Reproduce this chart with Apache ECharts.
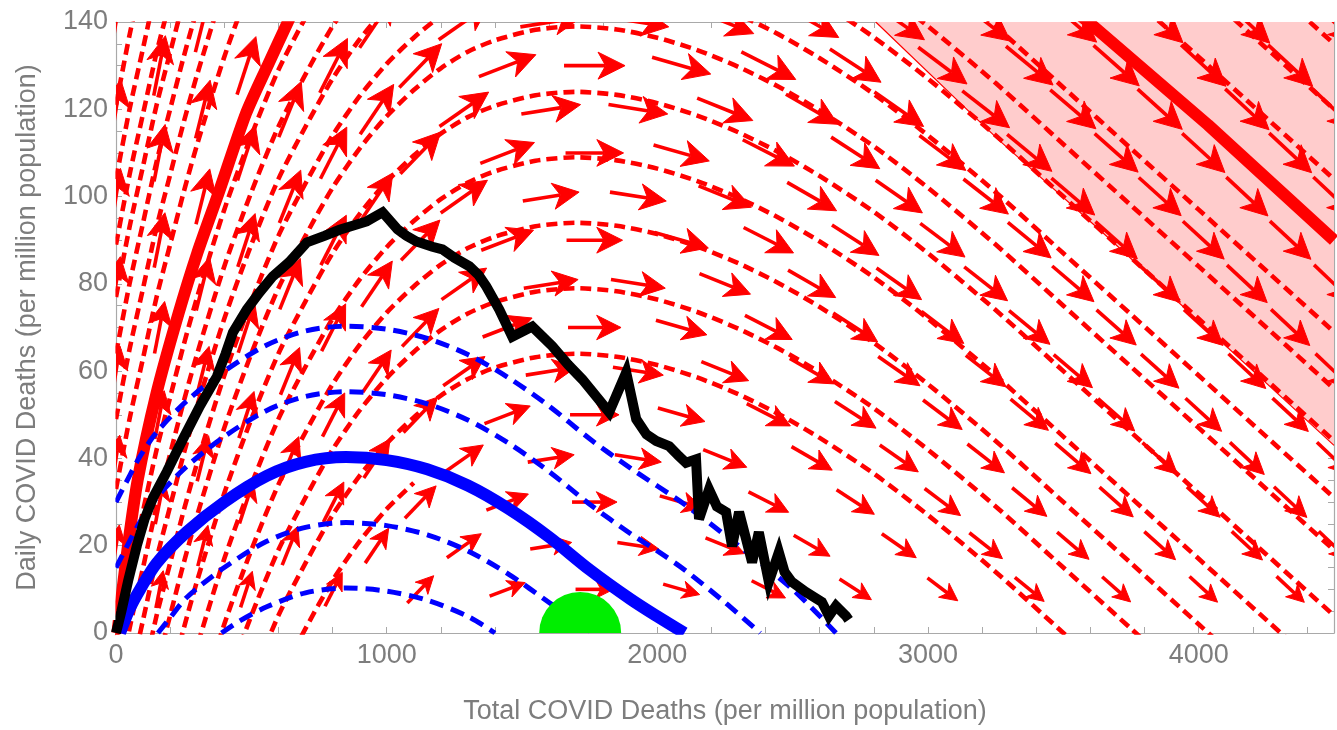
<!DOCTYPE html>
<html>
<head>
<meta charset="utf-8">
<script src="https://cdn.jsdelivr.net/npm/echarts/dist/echarts.min.js"></script>
<style>
html,body{margin:0;padding:0;background:#ffffff;}
#chart{width:1337px;height:730px;}
</style>
</head>
<body>
<div id="chart"></div>
<script>
// ---------------- data ----------------
const xTickLabels = [0, 1000, 2000, 3000, 4000];
const yTickLabels = [0, 20, 40, 60, 80, 100, 120, 140];

// shape of one red stream line: x and the drop below its peak
const streamShapeX    = [0, 50, 100, 150, 200, 250, 300, 400, 500, 600, 700, 800, 900, 1000, 1100, 1200, 1300, 1400, 1550, 1700, 1850, 2000, 2150, 2300, 2450, 2600, 2800, 3000, 3250, 3500, 3750, 4000, 4250, 4500];
const streamShapeDrop = [-191, -175, -161, -147, -135, -123, -112, -92, -75, -60, -48, -37, -28, -20.6, -14.6, -9.6, -5.8, -3.2, -0.8, 0, -0.7, -2.6, -5.5, -9.3, -13.9, -19.3, -27.5, -37, -50, -64, -78, -92, -106, -120];
// peak heights of the dashed red stream lines
const redStreamPeaks = [64, 79, 94, 109, 124, 139, 151, 164, 176, 189, 224, 240, 255, 268, 280, 295, 312];
const redPartialPeak = 49;
const redPartialXMax = 1150;

// thick solid red stream line (left and right visible parts)
const thickRedLeft  = [[5,0],[40,18],[80,35],[150,55],[230,73],[300,87],[380,101],[480,119],[560,130],[635,140],[700,149]];
const thickRedRight = [[3450,147],[3593,140],[4035,116.4],[4500,90]];
// edge of the pink band
const pinkEdge = [[2807,140],[3261,113],[3641,92],[4500,43]];

// blue curves
const blueThick  = [[15,0],[50,5.5],[89,10],[150,16],[262,23.2],[400,30],[557,36],[700,39.2],[850,40.3],[1000,39.6],[1150,37.5],[1300,33.8],[1450,28.5],[1600,22],[1750,14.5],[1900,7.8],[2000,3.8],[2100,0]];
const blueDash70 = [[0,30],[50,36],[89,40.5],[150,46],[262,53.2],[400,60],[557,66],[700,69.2],[850,70.3],[1000,69.6],[1150,67.5],[1300,63.8],[1450,58.5],[1600,52],[1750,44.5],[1900,37.8],[2100,29.5],[2300,20],[2500,10],[2660,0]];
const blueDash55 = [[0,15],[50,21],[89,25.5],[150,31],[262,38.2],[400,45],[557,51],[700,54.2],[850,55.3],[1000,54.6],[1150,52.5],[1300,48.8],[1450,43.5],[1600,37],[1750,29.5],[1900,22.8],[2000,18.8],[2100,14.5],[2250,7],[2380,0]];
const blueDash25 = [[155,0],[200,3.5],[262,8.2],[400,15],[557,21],[700,24.2],[850,25.3],[1000,24.6],[1150,22.5],[1300,18.8],[1450,13.5],[1600,7],[1760,0]];
const blueDash10 = [[390,0],[450,2.5],[557,6],[700,9.2],[850,10.3],[1000,9.6],[1150,7.5],[1300,3.8],[1400,0]];

// observed data (black)
const blackData = [[0,0],[20,5],[45,12],[77,20],[105,26],[137,31],[188,37],[247,44.4],[310,52],[373,58.8],[405,64],[432,68.9],[483,74.1],[530,78],[579,81.7],[640,85],[705,89.5],[770,91],[826,92.4],[926,94.3],[985,96.4],[1040,92.5],[1073,91],[1110,89.7],[1169,88.5],[1206,87.9],[1250,86],[1306,84],[1340,82],[1368,79.4],[1416,74.1],[1464,67.9],[1538,70.2],[1612,65.7],[1670,61.5],[1723,58.1],[1822,50.6],[1885,59.7],[1922,49],[1960,45.5],[1996,44],[2044,42.8],[2080,40.5],[2106,39],[2143,39.8],[2154,26.1],[2191,32.9],[2220,29],[2254,27.7],[2276,19.9],[2302,27.7],[2330,21],[2350,16.2],[2375,23.1],[2412,11.7],[2449,18.5],[2470,14],[2497,11.7],[2549,9.4],[2608,7.1],[2634,3.9],[2660,6.2],[2697,3.9],[2707,3]];

// green marker
const greenPoint = [[1715, 0]];

// vector field arrows: columns, their directions (deg), rows and arrow lengths
const arrowXs     = [0,161,321,482,643,804,964,1125,1286,1446,1607,1768,1929,2089,2250,2411,2571,2732,2893,3054,3214,3375,3536,3696,3857,4018,4179,4339,4500];
const arrowAngles = [81,79,76,72,68,63,56,46,35,21,9,0,-9,-16,-22,-27,-30,-33,-35,-37,-38,-39.5,-40.5,-41.5,-42,-42.5,-43,-43,-43.5];
const arrowRowYs  = [10,20,30,40,50,60,70,80,90,100,110,120,130,140];
const arrowRowLen = [38,42,45,47,49,51,53,55,56,57,58,60,61,62];

// ---------------- build ----------------
const FONT = "'Liberation Sans', Arial, Helvetica, sans-serif";
const axisGray = '#a9a9a9';
const labelGray = '#7d7d7d';
const RED = '#ff0000';
const BLUE = '#0000ff';

function streamPoints(peak, xMax) {
  const pts = [];
  for (let i = 0; i < streamShapeX.length; i++) {
    if (xMax != null && streamShapeX[i] > xMax) break;
    pts.push([streamShapeX[i], peak + streamShapeDrop[i]]);
  }
  return pts;
}

function lineSeries(data, color, width, dash, z, smooth, extra) {
  return Object.assign({
    type: 'line', data: data, showSymbol: false, symbol: 'none',
    smooth: smooth, clip: true, silent: true, z: z,
    animation: false,
    lineStyle: { color: color, width: width, type: dash || 'solid', cap: 'butt', join: 'round' }
  }, extra || {});
}

const arrowData = [];
arrowRowYs.forEach(function (y, jIdx) {
  const j = jIdx + 1;
  arrowXs.forEach(function (x, k) {
    if ((k + j) % 2 === 0) arrowData.push([x, y, arrowAngles[k], arrowRowLen[jIdx]]);
  });
});

const series = [];
// pink band
series.push(lineSeries(pinkEdge, RED, 1.2, 'solid', 1, false, {
  areaStyle: { color: '#ffcccc', opacity: 1, origin: 'end' }
}));
// dashed red stream lines
redStreamPeaks.forEach(function (p) {
  series.push(lineSeries(streamPoints(p), RED, 4.6, [11, 6], 2, 0.25));
});
series.push(lineSeries(streamPoints(redPartialPeak, redPartialXMax), RED, 4.6, [11, 6], 2, 0.25));
// thick solid red
series.push(lineSeries(thickRedLeft, RED, 12, 'solid', 2, 0.25));
series.push(lineSeries(thickRedRight, RED, 12, 'solid', 2, false));
// arrows
series.push({
  type: 'custom', coordinateSystem: 'cartesian2d', clip: true, silent: true, z: 3,
  animation: false,
  data: arrowData,
  encode: { x: 0, y: 1 },
  renderItem: function (params, api) {
    const c = api.coord([api.value(0), api.value(1)]);
    const a = api.value(2) * Math.PI / 180;
    const L = api.value(3);
    const dx = Math.cos(a), dy = -Math.sin(a);
    const nx = -dy, ny = dx;
    const tip = [c[0] + dx * L / 2, c[1] + dy * L / 2];
    const tail = [c[0] - dx * L / 2, c[1] - dy * L / 2];
    const hl = Math.min(0.46 * L, 27), hw = 0.5 * hl, notch = 0.28 * hl;
    const base = [tip[0] - dx * hl, tip[1] - dy * hl];
    const left = [base[0] + nx * hw, base[1] + ny * hw];
    const right = [base[0] - nx * hw, base[1] - ny * hw];
    const nt = [tip[0] - dx * (hl - notch), tip[1] - dy * (hl - notch)];
    return {
      type: 'group',
      children: [
        { type: 'line', shape: { x1: tail[0], y1: tail[1], x2: nt[0], y2: nt[1] }, style: { stroke: RED, lineWidth: 3.6 } },
        { type: 'polygon', shape: { points: [tip, left, nt, right] }, style: { fill: RED, stroke: RED, lineWidth: 1 } }
      ]
    };
  }
});
// blue curves
[blueDash70, blueDash55, blueDash25, blueDash10].forEach(function (d) {
  series.push(lineSeries(d, BLUE, 5, [14, 8], 4, 0.3));
});
series.push(lineSeries(blueThick, BLUE, 12, 'solid', 4, 0.3));
// green half disc
series.push({
  type: 'custom', coordinateSystem: 'cartesian2d', clip: true, silent: true, z: 5,
  animation: false,
  data: greenPoint,
  encode: { x: 0, y: 1 },
  renderItem: function (params, api) {
    const c = api.coord([api.value(0), api.value(1)]);
    return { type: 'circle', shape: { cx: c[0], cy: c[1], r: 41 }, style: { fill: '#00ee00' } };
  }
});
// black observed line
series.push(lineSeries(blackData, '#000000', 10, 'solid', 6, false, {
  lineStyle: { color: '#000000', width: 10, join: 'miter', miterLimit: 4 }
}));

const nameStyle = { color: labelGray, fontSize: 27, fontFamily: FONT };
const tickStyle = { color: axisGray, width: 1 };

const option = {
  backgroundColor: '#ffffff',
  animation: false,
  grid: { left: 116, right: 1, top: 22, bottom: 96, containLabel: false },
  // white margins so that wide strokes do not spill over the frame
  graphic: [
    { type: 'rect', z: 100, silent: true, shape: { x: 115.4, y: 0, width: 1222, height: 21.3 }, style: { fill: '#ffffff' } },
    { type: 'rect', z: 100, silent: true, shape: { x: 115.4, y: 634.7, width: 1222, height: 7 }, style: { fill: '#ffffff' } },
    { type: 'rect', z: 100, silent: true, shape: { x: 109.5, y: 36, width: 5.9, height: 584 }, style: { fill: '#ffffff' } }
  ],
  xAxis: [
    {
      type: 'value', min: 0, max: 4500, interval: 200, position: 'bottom',
      axisLine: { show: true, onZero: false, lineStyle: { color: axisGray, width: 1.2 } },
      axisTick: { show: true, inside: true, length: 6, lineStyle: tickStyle },
      splitLine: { show: false },
      axisLabel: {
        color: labelGray, fontSize: 27, fontFamily: FONT, margin: 9,
        formatter: function (v) { return xTickLabels.indexOf(v) >= 0 ? String(v) : ''; }
      },
      name: 'Total COVID Deaths (per million population)', nameLocation: 'middle', nameGap: 65,
      nameTextStyle: nameStyle
    },
    {
      type: 'value', min: 0, max: 4500, interval: 200, position: 'top',
      axisLine: { show: true, onZero: false, lineStyle: { color: axisGray, width: 1.2 } },
      axisTick: { show: true, inside: true, length: 6, lineStyle: tickStyle },
      splitLine: { show: false }, axisLabel: { show: false }
    }
  ],
  yAxis: [
    {
      type: 'value', min: 0, max: 140, interval: 5, position: 'left',
      axisLine: { show: true, onZero: false, lineStyle: { color: axisGray, width: 1.2 } },
      axisTick: { show: true, inside: true, length: 6, lineStyle: tickStyle },
      splitLine: { show: false },
      axisLabel: {
        color: labelGray, fontSize: 27, fontFamily: FONT, margin: 8,
        formatter: function (v) { return yTickLabels.indexOf(v) >= 0 ? String(v) : ''; }
      },
      name: 'Daily COVID Deaths (per million population)', nameLocation: 'middle', nameGap: 75,
      nameTextStyle: nameStyle
    },
    {
      type: 'value', min: 0, max: 140, interval: 5, position: 'right',
      axisLine: { show: true, onZero: false, lineStyle: { color: axisGray, width: 1.2 } },
      axisTick: { show: true, inside: true, length: 6, lineStyle: tickStyle },
      splitLine: { show: false }, axisLabel: { show: false }
    }
  ],
  series: series
};

const chart = echarts.init(document.getElementById('chart'), null, { renderer: 'canvas' });
chart.setOption(option);
</script>
</body>
</html>
